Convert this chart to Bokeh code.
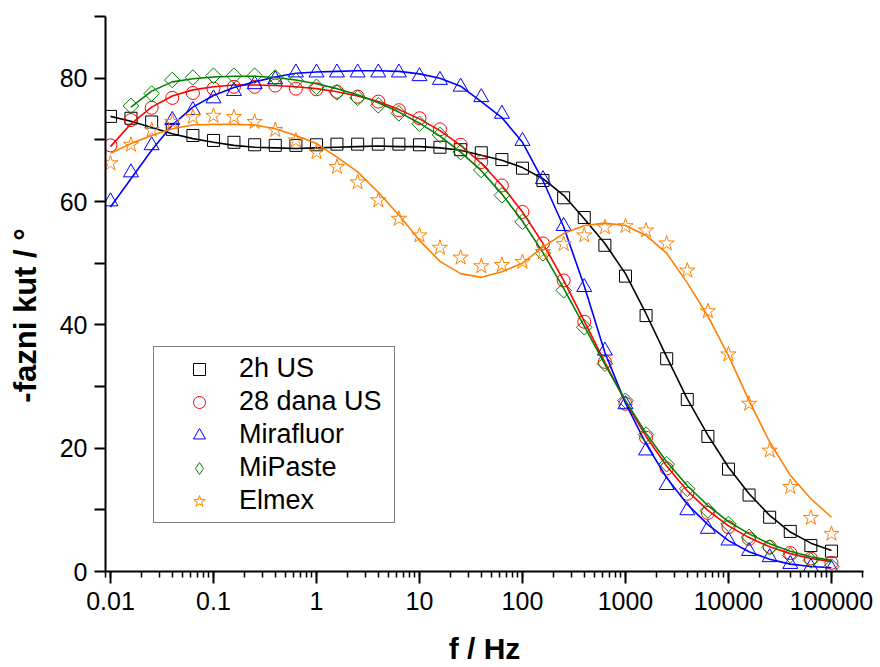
import math
from bokeh.plotting import figure
from bokeh.models import (Range1d, LogTicker, SingleIntervalTicker, CustomJSTickFormatter,
                          Legend, LegendItem)
from bokeh.embed import file_html
from bokeh.resources import INLINE

NAN = float("nan")

freq = [0.01, 0.0158, 0.0251, 0.0398, 0.0631, 0.1, 0.158, 0.251, 0.398, 0.631,
        1, 1.58, 2.51, 3.98, 6.31, 10, 15.8, 25.1, 39.8, 63.1,
        100, 158, 251, 398, 631, 1000, 1585, 2512, 3981, 6310,
        10000, 15849, 25119, 39811, 63096, 100000]

series_names = ["2h US", "28 dana US", "Mirafluor", "MiPaste", "Elmex"]

us2h = [73.8, 73.5, 72.9, 71.7, 70.7, 69.9, 69.6, 69.2, 69.1, 69.1,
        69.2, 69.3, 69.3, 69.3, 69.3, 69.2, 68.8, 68.4, 67.9, 66.8,
        65.4, 63.4, 60.6, 57.4, 52.9, 47.9, 41.5, 34.5, 27.9, 21.9,
        16.6, 12.4, 8.8, 6.5, 4.2, 3.3]
us28 = [69.1, 73.2, 75.2, 76.8, 77.6, 78.3, 78.6, 78.6, 78.8, 78.3,
        78.2, 77.8, 77.0, 76.2, 74.8, 73.5, 71.7, 69.2, 66.4, 62.6,
        58.3, 53.2, 47.2, 40.5, 34.0, 27.2, 21.7, 16.7, 12.6, 9.5,
        7.2, 5.3, 4.0, 3.0, 2.1, 1.4]
mirafluor = [60.0, 64.7, 69.1, 73.2, 74.8, 76.7, 77.9, 79.0, 79.8, 80.9,
             80.9, 80.9, 80.9, 80.9, 80.9, 80.3, 79.7, 78.6, 76.9, 74.2,
             69.8, 63.6, 56.0, 46.1, 35.8, 27.1, 19.6, 14.0, 9.9, 6.9,
             5.0, 3.3, 2.3, 1.2, 0.7, 0.4]
mipaste = [NAN, 75.5, 77.5, 79.7, 80.1, 80.4, 80.4, 80.4, 80.1, 79.6,
           78.6, 77.7, 76.8, 75.6, 74.3, 72.6, 70.8, 68.0, 65.1, 61.0,
           56.7, 51.6, 45.6, 39.6, 33.7, 27.7, 22.2, 17.4, 13.4, 9.9,
           7.7, 5.6, 3.9, 2.6, 1.8, 0.8]
elmex = [66.2, 69.2, 71.6, 72.9, 73.7, 73.9, 73.7, 72.9, 71.6, 69.9,
         68.0, 65.6, 63.1, 60.2, 57.2, 54.5, 52.5, 50.9, 49.5, 49.7,
         50.2, 51.8, 53.1, 54.5, 55.8, 56.0, 55.3, 53.2, 48.8, 42.2,
         35.2, 27.2, 19.6, 13.7, 8.7, 6.1]

# fitted curves
fit_2h = [73.8, 73.0, 72.0, 71.0, 70.2, 69.6, 69.1, 68.8, 68.7, 68.6,
          68.7, 68.8, 68.9, 69.0, 68.9, 68.9, 68.7, 68.3, 67.5, 66.7,
          65.5, 63.7, 61.0, 57.2, 53.2, 48.3, 41.8, 34.8, 28.0, 22.1,
          16.9, 12.6, 9.1, 6.4, 4.6, 3.4]
fit_28 = [68.9, 72.6, 75.3, 77.1, 78.1, 78.6, 78.9, 78.9, 78.8, 78.6,
          78.3, 77.8, 77.1, 76.2, 74.9, 73.4, 71.5, 69.1, 66.2, 62.6,
          58.3, 53.2, 47.2, 40.6, 33.9, 27.5, 21.9, 17.1, 13.1, 9.9,
          7.4, 5.5, 4.0, 2.9, 2.1, 1.6]
fit_mira = [59.1, 63.7, 68.3, 72.4, 75.3, 77.2, 78.5, 79.4, 80.2, 80.8,
            81.0, 81.1, 81.2, 81.2, 81.1, 80.7, 80.0, 78.7, 76.2, 73.6,
            69.6, 63.4, 55.9, 46.3, 35.5, 27.3, 20.7, 15.2, 10.9, 7.6,
            5.0, 3.2, 2.0, 1.2, 0.8, 0.6]
fit_mipaste = [NAN, 75.3, 77.9, 79.4, 79.9, 80.2, 80.3, 80.3, 80.1, 79.7,
               79.1, 78.3, 77.3, 76.0, 74.5, 72.7, 70.6, 68.0, 65.0, 61.2,
               56.8, 51.7, 45.9, 39.8, 33.6, 27.7, 22.4, 17.8, 13.9, 10.7,
               8.1, 6.1, 4.5, 3.3, 2.4, 1.8]
fit_elmex = [67.8, 69.4, 70.7, 71.8, 72.4, 72.5, 72.5, 72.4, 71.8, 70.7,
             69.4, 67.2, 64.8, 61.5, 57.8, 53.7, 50.3, 48.3, 47.7, 48.6,
             50.0, 52.6, 54.8, 56.1, 56.5, 56.1, 54.5, 51.6, 46.8, 41.4,
             35.0, 27.7, 21.0, 15.6, 11.8, 8.8]

FONT = "Liberation Sans"

p = figure(width=880, height=667, x_axis_type="log",
           x_range=Range1d(10 ** -2.0485, 10 ** 5.311), y_range=Range1d(0, 90),
           output_backend="svg", toolbar_location=None,
           min_border_left=105, min_border_right=17, min_border_top=16, min_border_bottom=96)
p.outline_line_color = None
p.grid.visible = False
p.background_fill_color = "white"
p.border_fill_color = "white"

xa = p.xaxis[0]
xa.ticker = LogTicker(desired_num_ticks=8, num_minor_ticks=10)
xa.formatter = CustomJSTickFormatter(code="return tick >= 1 ? tick.toFixed(0) : String(+tick.toPrecision(1));")
ya = p.yaxis[0]
ya.ticker = SingleIntervalTicker(interval=10, num_minor_ticks=0)
ya.major_label_overrides = {10: "", 30: "", 50: "", 70: "", 90: ""}

for ax in (xa, ya):
    ax.axis_line_width = 2
    ax.axis_line_color = "black"
    ax.major_tick_line_width = 2
    ax.minor_tick_line_width = 1.5
    ax.major_tick_in = 0
    ax.minor_tick_in = 0
    ax.major_label_text_font = FONT
    ax.major_label_text_font_size = "25px"
    ax.major_label_text_color = "black"
    ax.axis_label_text_font = FONT
    ax.axis_label_text_font_style = "bold"
    ax.axis_label_text_color = "black"
xa.major_tick_out = 12
xa.minor_tick_out = 6
xa.major_label_standoff = 8
ya.major_tick_out = 11
ya.minor_tick_out = 0
ya.major_label_standoff = 7

xa.axis_label = "f / Hz"
xa.axis_label_text_font_size = "30px"
xa.axis_label_text_line_height = 0.6
xa.axis_label_standoff = 19
ya.axis_label = "-fazni kut / °" + "\u00a0" * 5
ya.axis_label_text_font_size = "31px"
ya.axis_label_standoff = 14

colors = ["black", "#ff0000", "#0000ff", "#008000", "#ff8000"]
data_sets = [us2h, us28, mirafluor, mipaste, elmex]
fit_sets = [fit_2h, fit_28, fit_mira, fit_mipaste, fit_elmex]
markers = ["square", "circle", "triangle", "square", "star"]
legend_markers = ["square", "circle", "triangle", "diamond", "star"]
sizes = [12, 13, 15, 11, 16]
angles = [0, 0, 0, math.pi / 4, 0]

items = []
for name, col, ys, fy, mk, lmk, sz, ang in zip(series_names, colors, data_sets, fit_sets,
                                               markers, legend_markers, sizes, angles):
    p.line(freq, fy, line_color=col, line_width=1.6)
    r = p.scatter(freq, ys, marker=mk, size=sz, angle=ang, line_color=col, line_width=1,
                  fill_color=None)
    if lmk != mk:
        # legend key drawn with the diamond marker (legend ignores marker angles)
        r = p.scatter([NAN], [NAN], marker=lmk, size=sz, line_color=col, line_width=1,
                      fill_color=None)
    items.append(LegendItem(label=name, renderers=[r]))

legend = Legend(items=items, location=(48, 48), margin=0, padding=6, spacing=2,
                glyph_width=78, glyph_height=30, label_height=30, label_width=149,
                label_standoff=1,
                label_text_font=FONT, label_text_font_size="27px", label_text_color="black",
                border_line_color="black", border_line_width=1,
                background_fill_color="white", background_fill_alpha=1)
p.add_layout(legend, "center")

open("out.html", "w").write(file_html(p, INLINE))
